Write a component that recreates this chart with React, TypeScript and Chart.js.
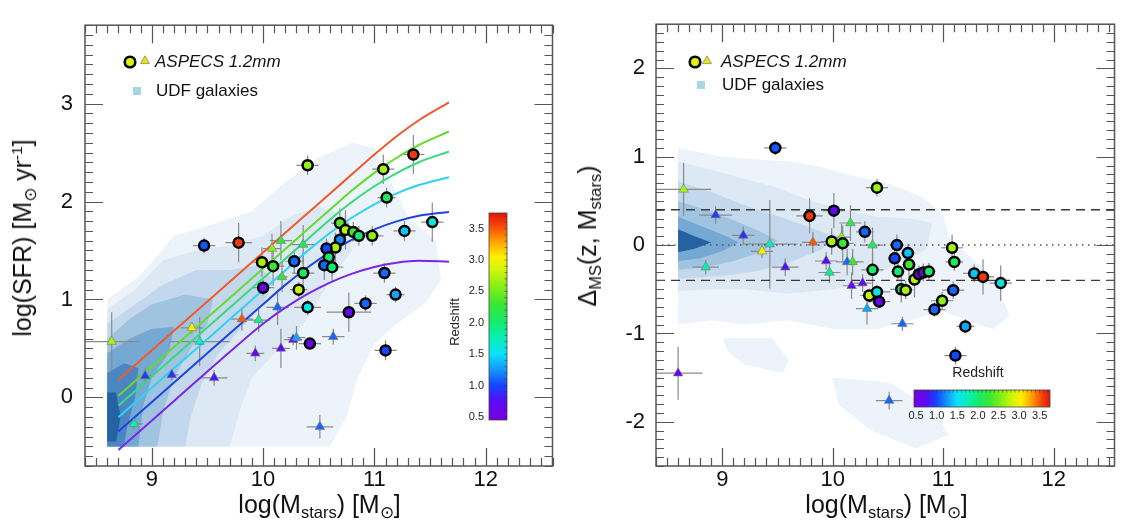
import React, { useEffect, useRef } from "react";
import { Chart, registerables } from "chart.js";

Chart.register(...registerables);

const FONT = "'Liberation Sans', Arial, Helvetica, sans-serif";

// ---------------- tick labels ----------------
const X_MAJOR = [9, 10, 11, 12];
const SFR_TICKS = [0, 1, 2, 3];
const DMS_TICKS = [-2, -1, 0, 1, 2];
const CBAR_TICKS = [0.5, 1.0, 1.5, 2.0, 2.5, 3.0, 3.5];

// ---------------- ASPECS 1.2mm, circles (left panel) ----------------
const C_LOGM = [9.47, 9.78, 9.99, 10.09, 10.28, 10.36, 10.0, 10.32, 10.4, 10.42, 10.4, 11.08, 11.35, 11.11, 10.69, 10.74, 10.81, 10.86, 10.98, 11.27, 11.52, 10.69, 10.65, 10.57, 10.59, 10.55, 10.62, 11.09, 11.19, 10.92, 10.77, 11.1];
const C_LOGSFR = [1.55, 1.58, 1.38, 1.34, 1.39, 1.27, 1.12, 1.1, 0.92, 0.55, 2.37, 2.33, 2.48, 2.04, 1.78, 1.71, 1.69, 1.65, 1.65, 1.7, 1.79, 1.61, 1.53, 1.52, 1.43, 1.35, 1.33, 1.27, 1.05, 0.96, 0.87, 0.48];
const C_Z = [1.05, 3.6, 2.7, 2.3, 1.1, 2.05, 0.65, 2.8, 1.6, 0.6, 2.65, 2.7, 3.6, 2.1, 2.4, 2.75, 2.3, 2.0, 2.6, 1.4, 1.6, 1.2, 2.7, 1.0, 2.0, 1.1, 2.0, 1.1, 1.3, 1.1, 0.65, 1.0];
const C_XERR = [0.1, 0.12, 0.1, 0.1, 0.08, 0.1, 0.1, 0.08, 0.12, 0.1, 0.1, 0.1, 0.1, 0.08, 0.08, 0.06, 0.06, 0.06, 0.1, 0.1, 0.1, 0.05, 0.05, 0.06, 0.06, 0.06, 0.1, 0.1, 0.08, 0.1, 0.2, 0.1];
const C_YERR = [0.08, 0.2, 0.15, 0.2, 0.12, 0.2, 0.08, 0.08, 0.08, 0.06, 0.1, 0.15, 0.2, 0.1, 0.15, 0.2, 0.1, 0.1, 0.1, 0.1, 0.2, 0.1, 0.15, 0.1, 0.1, 0.15, 0.15, 0.1, 0.08, 0.08, 0.2, 0.1];

// ---------------- ASPECS 1.2mm, triangles (left panel) ----------------
const T_LOGM = [8.64, 8.94, 9.18, 8.84, 9.36, 9.43, 9.56, 9.81, 9.96, 10.13, 9.93, 10.16, 10.27, 10.3, 10.08, 10.16, 10.36, 10.17, 10.51, 10.63];
const T_LOGSFR = [0.57, 0.22, 0.23, -0.27, 0.71, 0.57, 0.2, 0.8, 0.79, 0.92, 0.45, 0.5, 0.59, 0.61, 1.52, 1.6, 1.56, 1.23, -0.3, 0.62];
const T_Z = [2.7, 0.95, 0.9, 1.8, 3.0, 1.7, 0.8, 3.5, 1.9, 1.1, 0.7, 0.7, 0.7, 1.3, 2.6, 2.2, 2.1, 2.3, 1.1, 1.1];
const T_XERR = [0.25, 0.08, 0.06, 0.08, 0.1, 0.27, 0.12, 0.1, 0.1, 0.1, 0.08, 0.08, 0.08, 0.08, 0.08, 0.1, 0.12, 0.05, 0.12, 0.1];
const T_YERR = [0.3, 0.08, 0.05, 0.06, 0.06, 0.25, 0.08, 0.12, 0.12, 0.18, 0.08, 0.2, 0.06, 0.12, 0.15, 0.2, 0.2, 0.15, 0.12, 0.08];

// ---------------- ASPECS circles (right panel, Delta_MS) ----------------
const RC_LOGM = [9.48, 10.4, 9.79, 10.01, 10.29, 9.99, 10.09, 10.36, 10.33, 10.4, 10.42, 10.58, 10.56, 10.68, 10.69, 10.59, 10.74, 10.78, 10.82, 10.87, 10.62, 10.66, 11.08, 11.1, 11.28, 11.36, 11.52, 11.09, 10.99, 10.92, 11.2, 11.11];
const RC_DMS = [1.1, 0.65, 0.33, 0.39, 0.15, 0.04, 0.02, -0.28, -0.57, -0.53, -0.64, 0.0, -0.15, -0.09, -0.22, -0.3, -0.39, -0.33, -0.31, -0.3, -0.5, -0.51, -0.03, -0.19, -0.32, -0.36, -0.43, -0.51, -0.63, -0.73, -0.92, -1.25];
const RC_Z = [1.05, 2.65, 3.6, 0.65, 1.1, 2.7, 2.3, 2.05, 2.8, 1.6, 0.6, 1.1, 1.0, 1.4, 2.3, 2.0, 2.75, 0.55, 0.6, 2.0, 2.0, 2.7, 2.7, 2.1, 1.4, 3.6, 1.6, 1.1, 2.6, 1.1, 1.3, 1.0];
const RC_XERR = [0.1, 0.1, 0.12, 0.1, 0.08, 0.1, 0.1, 0.1, 0.08, 0.12, 0.1, 0.06, 0.06, 0.06, 0.06, 0.06, 0.06, 0.06, 0.06, 0.06, 0.1, 0.06, 0.1, 0.08, 0.1, 0.1, 0.1, 0.1, 0.1, 0.1, 0.08, 0.1];
const RC_YERR = [0.08, 0.1, 0.2, 0.2, 0.12, 0.15, 0.2, 0.2, 0.08, 0.08, 0.06, 0.12, 0.15, 0.1, 0.15, 0.1, 0.2, 0.1, 0.1, 0.1, 0.15, 0.1, 0.15, 0.1, 0.1, 0.2, 0.2, 0.1, 0.1, 0.08, 0.08, 0.1];

// ---------------- ASPECS triangles (right panel, Delta_MS) ----------------
const RT_LOGM = [8.65, 8.94, 9.19, 8.85, 9.36, 9.43, 9.57, 9.82, 9.97, 10.13, 9.94, 10.17, 10.27, 10.31, 10.08, 10.16, 10.36, 10.18, 8.6, 10.51, 10.63];
const RT_DMS = [0.63, 0.34, 0.11, -0.25, -0.07, 0.01, -0.25, 0.03, -0.31, -0.19, -0.18, -0.46, -0.43, -0.72, 0.09, 0.25, 0.0, -0.19, -1.45, -1.76, -0.89];
const RT_Z = [2.7, 0.95, 0.9, 1.8, 3.0, 1.7, 0.8, 3.5, 1.9, 1.1, 0.7, 0.7, 0.7, 1.3, 2.6, 2.2, 2.1, 2.3, 0.6, 1.1, 1.1];
const RT_XERR = [0.25, 0.15, 0.1, 0.12, 0.1, 0.25, 0.12, 0.1, 0.1, 0.1, 0.1, 0.08, 0.08, 0.1, 0.08, 0.1, 0.1, 0.1, 0.22, 0.12, 0.1];
const RT_YERR = [0.3, 0.1, 0.1, 0.08, 0.08, 0.5, 0.1, 0.12, 0.12, 0.15, 0.1, 0.15, 0.1, 0.18, 0.15, 0.2, 0.2, 0.15, 0.3, 0.1, 0.08];

// ---------------- Main-sequence curves (left panel) ----------------
const MS_LOGM = [8.7, 9.2, 9.7, 10.0, 10.2, 10.4, 10.6, 10.8, 11.0, 11.2, 11.4, 11.67];
const MS_Z = [3.5, 2.5, 2.0, 1.5, 1.0, 0.5];
const MS_SFR_Z35 = [0.18, 0.68, 1.18, 1.48, 1.68, 1.88, 2.08, 2.28, 2.48, 2.667, 2.83, 3.012];
const MS_SFR_Z25 = [0.016, 0.516, 1.016, 1.316, 1.516, 1.716, 1.916, 2.114, 2.293, 2.447, 2.577, 2.715];
const MS_SFR_Z20 = [-0.084, 0.416, 0.916, 1.216, 1.416, 1.616, 1.815, 1.997, 2.156, 2.29, 2.401, 2.511];
const MS_SFR_Z15 = [-0.203, 0.297, 0.797, 1.097, 1.297, 1.496, 1.679, 1.837, 1.972, 2.083, 2.169, 2.248];
const MS_SFR_Z10 = [-0.348, 0.152, 0.652, 0.952, 1.149, 1.327, 1.48, 1.61, 1.715, 1.797, 1.854, 1.894];
const MS_SFR_Z05 = [-0.536, -0.036, 0.464, 0.752, 0.916, 1.056, 1.172, 1.264, 1.332, 1.376, 1.396, 1.385];
const MS_SFR = [MS_SFR_Z35, MS_SFR_Z25, MS_SFR_Z20, MS_SFR_Z15, MS_SFR_Z10, MS_SFR_Z05];

// ---------------- Delta_MS reference levels (right panel) ----------------
const DMS_SCATTER = [0.4, -0.4];
const DMS_ZERO = [0];

// ---------------- UDF galaxy density contours ----------------
const UDF_SFR_L1 = [[8.6, -0.5], [8.6, 1.0], [8.9, 1.25], [9.2, 1.65], [9.5, 1.75], [9.9, 1.9], [10.2, 2.2], [10.5, 2.45], [10.8, 2.6], [11.0, 2.55], [11.15, 2.2], [11.3, 1.85], [11.55, 1.6], [11.6, 1.2], [11.45, 0.95], [11.2, 0.75], [11.0, 0.55], [10.85, 0.2], [10.75, -0.2], [10.6, -0.5]];
const UDF_SFR_L2 = [[8.6, -0.5], [8.6, 0.9], [8.85, 1.1], [9.1, 1.4], [9.4, 1.5], [9.7, 1.55], [10.0, 1.65], [10.25, 1.85], [10.5, 1.95], [10.75, 1.85], [10.8, 1.5], [10.6, 1.2], [10.45, 0.9], [10.3, 0.65], [10.1, 0.45], [9.9, 0.2], [9.8, -0.1], [9.7, -0.5]];
const UDF_SFR_L3 = [[8.6, -0.5], [8.6, 0.75], [8.85, 0.95], [9.1, 1.15], [9.4, 1.3], [9.7, 1.3], [9.95, 1.35], [10.1, 1.2], [10.0, 0.95], [9.8, 0.7], [9.6, 0.45], [9.45, 0.15], [9.35, -0.2], [9.3, -0.5]];
const UDF_SFR_L4 = [[8.6, -0.5], [8.6, 0.6], [8.8, 0.8], [9.0, 0.95], [9.3, 1.05], [9.55, 1.0], [9.5, 0.75], [9.35, 0.5], [9.2, 0.2], [9.1, -0.15], [9.05, -0.5]];
const UDF_SFR_L5 = [[8.6, -0.5], [8.6, 0.45], [8.8, 0.6], [9.0, 0.7], [9.2, 0.72], [9.15, 0.45], [9.0, 0.2], [8.92, -0.1], [8.88, -0.5]];
const UDF_SFR_L6 = [[8.6, -0.5], [8.6, 0.25], [8.75, 0.35], [8.88, 0.3], [8.85, 0.0], [8.78, -0.3], [8.75, -0.5]];
const UDF_SFR_L7 = [[8.6, -0.45], [8.6, 0.05], [8.68, 0.05], [8.72, -0.2], [8.68, -0.45]];

const UDF_DMS_L1 = [[8.6, 1.1], [9.0, 1.0], [9.3, 0.97], [9.6, 0.95], [9.9, 0.88], [10.2, 0.78], [10.5, 0.7], [10.8, 0.55], [11.0, 0.35], [11.05, 0.1], [11.3, -0.2], [11.5, -0.5], [11.6, -0.8], [11.45, -0.95], [11.2, -0.85], [11.0, -0.75], [10.7, -0.85], [10.4, -0.95], [10.0, -0.95], [9.6, -0.85], [9.2, -0.9], [8.9, -0.85], [8.6, -0.9]];
const UDF_DMS_P2 = [[9.0, -1.05], [9.45, -1.05], [9.6, -1.3], [9.55, -1.45], [9.2, -1.35], [9.05, -1.2]];
const UDF_DMS_P3 = [[10.0, -1.5], [10.5, -1.55], [10.9, -1.85], [11.05, -2.15], [10.75, -2.3], [10.35, -2.1], [10.05, -1.8]];
const UDF_DMS_L2 = [[8.6, 0.95], [8.9, 0.85], [9.2, 0.75], [9.5, 0.65], [9.8, 0.5], [10.1, 0.4], [10.4, 0.32], [10.7, 0.3], [10.9, 0.25], [10.85, -0.05], [10.6, -0.2], [10.3, -0.4], [10.0, -0.5], [9.6, -0.55], [9.2, -0.5], [8.9, -0.5], [8.6, -0.52]];
const UDF_DMS_L3 = [[8.6, 0.72], [8.9, 0.6], [9.2, 0.45], [9.5, 0.33], [9.8, 0.2], [10.0, 0.1], [9.9, -0.05], [9.6, -0.2], [9.3, -0.3], [9.0, -0.35], [8.6, -0.38]];
const UDF_DMS_L4 = [[8.6, 0.5], [8.85, 0.4], [9.1, 0.28], [9.35, 0.15], [9.5, 0.05], [9.35, -0.08], [9.1, -0.18], [8.85, -0.25], [8.6, -0.28]];
const UDF_DMS_L5 = [[8.6, 0.32], [8.8, 0.22], [9.0, 0.12], [9.15, 0.03], [9.0, -0.07], [8.8, -0.15], [8.6, -0.18]];
const UDF_DMS_L6 = [[8.6, 0.18], [8.75, 0.1], [8.9, 0.03], [8.75, -0.04], [8.6, -0.08]];

// ---------------- styles ----------------
const CONTOUR_COLORS = ["#edf3fa", "#dce8f4", "#c3d8ec", "#a0c3e0", "#75a8d3", "#4b86c2", "#2462a3"];
const MS_COLORS = ["#f2592a", "#62dc2c", "#36db7c", "#2fd2f0", "#1f44e0", "#7a26e6"];
const CMAP_Z = [0.45, 0.75, 1.0, 1.25, 1.5, 1.8, 2.0, 2.3, 2.6, 2.85, 3.05, 3.3, 3.55, 3.75];
const CMAP_RGB = [
  [120, 0, 225], [90, 10, 245], [20, 70, 255], [20, 150, 250], [10, 225, 250], [10, 240, 170], [20, 235, 110],
  [60, 230, 50], [140, 240, 20], [210, 245, 10], [255, 240, 0], [255, 160, 0], [245, 70, 10], [225, 20, 10],
];
const CB_MIN = 0.45;
const CB_MAX = 3.75;

function zColor(z: number): string {
  if (z <= CMAP_Z[0]) return `rgb(${CMAP_RGB[0].join(",")})`;
  for (let i = 1; i < CMAP_Z.length; i++) {
    if (z <= CMAP_Z[i]) {
      const t = (z - CMAP_Z[i - 1]) / (CMAP_Z[i] - CMAP_Z[i - 1]);
      const a = CMAP_RGB[i - 1];
      const b = CMAP_RGB[i];
      const c = a.map((v, k) => Math.round(v + (b[k] - v) * t));
      return `rgb(${c.join(",")})`;
    }
  }
  return `rgb(${CMAP_RGB[CMAP_RGB.length - 1].join(",")})`;
}

const pts = (xs: number[], ys: number[]) => xs.map((x, i) => ({ x, y: ys[i] }));

type ErrSet = { x: number[]; y: number[]; xe: number[]; ye: number[] };
type DecorCfg = {
  id: string;
  contours: { pts: number[][]; color: string }[];
  errors: ErrSet[];
  legend: { cx: number; cy: number; trx: number; tx: number; sx: number; sy: number; ux: number };
  colorbar: { orient: "v" | "h"; x0: number; y0: number; x1: number; y1: number; lx: number; ly: number; lsize: number };
};

function makeDecor(cfg: DecorCfg) {
  return {
    id: cfg.id,
    beforeDatasetsDraw(chart: any) {
      const { ctx, chartArea: a } = chart;
      const xs = chart.scales.x;
      const ys = chart.scales.y;
      ctx.save();
      ctx.beginPath();
      ctx.rect(a.left, a.top, a.right - a.left, a.bottom - a.top);
      ctx.clip();
      for (const c of cfg.contours) {
        ctx.beginPath();
        c.pts.forEach(([vx, vy], i) => {
          const px = xs.getPixelForValue(vx);
          const py = ys.getPixelForValue(vy);
          if (i === 0) ctx.moveTo(px, py);
          else ctx.lineTo(px, py);
        });
        ctx.closePath();
        ctx.fillStyle = c.color;
        ctx.fill();
      }
      ctx.strokeStyle = "#8a8a8a";
      ctx.lineWidth = 1.2;
      for (const e of cfg.errors) {
        for (let i = 0; i < e.x.length; i++) {
          const px = xs.getPixelForValue(e.x[i]);
          const py = ys.getPixelForValue(e.y[i]);
          ctx.beginPath();
          ctx.moveTo(xs.getPixelForValue(e.x[i] - e.xe[i]), py);
          ctx.lineTo(xs.getPixelForValue(e.x[i] + e.xe[i]), py);
          ctx.moveTo(px, ys.getPixelForValue(e.y[i] - e.ye[i]));
          ctx.lineTo(px, ys.getPixelForValue(e.y[i] + e.ye[i]));
          ctx.stroke();
        }
      }
      ctx.restore();
    },
    afterDraw(chart: any) {
      const { ctx, chartArea: a } = chart;
      const xs = chart.scales.x;
      const ys = chart.scales.y;
      ctx.save();
      // ticks, all four sides, inward
      ctx.strokeStyle = "#555";
      ctx.lineWidth = 1.2;
      const k0 = Math.ceil(xs.min * 10 - 1e-6);
      const k1 = Math.floor(xs.max * 10 + 1e-6);
      for (let k = k0; k <= k1; k++) {
        const L = k % 10 === 0 ? 18 : 8;
        const px = Math.round(xs.getPixelForValue(k / 10)) + 0.5;
        ctx.beginPath();
        ctx.moveTo(px, a.bottom);
        ctx.lineTo(px, a.bottom - L);
        ctx.moveTo(px, a.top);
        ctx.lineTo(px, a.top + L);
        ctx.stroke();
      }
      const j0 = Math.ceil(ys.min * 10 - 1e-6);
      const j1 = Math.floor(ys.max * 10 + 1e-6);
      for (let k = j0; k <= j1; k++) {
        const L = k % 10 === 0 ? 18 : 8;
        const py = Math.round(ys.getPixelForValue(k / 10)) + 0.5;
        ctx.beginPath();
        ctx.moveTo(a.left, py);
        ctx.lineTo(a.left + L, py);
        ctx.moveTo(a.right, py);
        ctx.lineTo(a.right - L, py);
        ctx.stroke();
      }
      ctx.lineWidth = 1.5;
      ctx.strokeRect(a.left, a.top, a.right - a.left, a.bottom - a.top);

      // legend
      const L = cfg.legend;
      ctx.beginPath();
      ctx.arc(L.cx, L.cy, 5.3, 0, Math.PI * 2);
      ctx.fillStyle = "#e2f000";
      ctx.fill();
      ctx.lineWidth = 2.6;
      ctx.strokeStyle = "#000";
      ctx.stroke();
      const r = 5.2;
      ctx.beginPath();
      ctx.moveTo(L.trx, L.cy - 1 - r);
      ctx.lineTo(L.trx + r * 0.866, L.cy - 1 + r * 0.5);
      ctx.lineTo(L.trx - r * 0.866, L.cy - 1 + r * 0.5);
      ctx.closePath();
      ctx.fillStyle = "#e6e600";
      ctx.fill();
      ctx.lineWidth = 0.8;
      ctx.strokeStyle = "#888";
      ctx.stroke();
      ctx.fillStyle = "#111";
      ctx.textBaseline = "middle";
      ctx.textAlign = "left";
      ctx.font = `italic 17px ${FONT}`;
      ctx.fillText("ASPECS 1.2mm", L.tx, L.cy);
      ctx.fillStyle = "#a9d3e6";
      ctx.fillRect(L.sx - 4, L.sy - 4, 8, 8);
      ctx.fillStyle = "#111";
      ctx.font = `17px ${FONT}`;
      ctx.fillText("UDF galaxies", L.ux, L.sy);

      // colorbar
      const cb = cfg.colorbar;
      const stops = CMAP_Z.map((z, i) => [(z - CB_MIN) / (CB_MAX - CB_MIN), `rgb(${CMAP_RGB[i].join(",")})`] as [number, string]);
      let g;
      if (cb.orient === "v") g = ctx.createLinearGradient(0, cb.y1, 0, cb.y0);
      else g = ctx.createLinearGradient(cb.x0, 0, cb.x1, 0);
      for (const [o, c] of stops) g.addColorStop(Math.min(1, Math.max(0, o)), c);
      ctx.fillStyle = g;
      ctx.fillRect(cb.x0, cb.y0, cb.x1 - cb.x0, cb.y1 - cb.y0);
      ctx.strokeStyle = "#444";
      ctx.lineWidth = 0.8;
      ctx.strokeRect(cb.x0, cb.y0, cb.x1 - cb.x0, cb.y1 - cb.y0);
      ctx.fillStyle = "#222";
      ctx.font = `11px ${FONT}`;
      ctx.strokeStyle = "rgba(40,40,40,0.7)";
      ctx.lineWidth = 0.7;
      for (let k = 5; k <= 37; k++) {
        const t = (k / 10 - CB_MIN) / (CB_MAX - CB_MIN);
        ctx.beginPath();
        if (cb.orient === "v") {
          const py = cb.y1 - t * (cb.y1 - cb.y0);
          ctx.moveTo(cb.x1, py);
          ctx.lineTo(cb.x1 - 2.5, py);
        } else {
          const px = cb.x0 + t * (cb.x1 - cb.x0);
          ctx.moveTo(px, cb.y0);
          ctx.lineTo(px, cb.y0 + 2.5);
        }
        ctx.stroke();
      }
      for (const tv of CBAR_TICKS) {
        const t = (tv - CB_MIN) / (CB_MAX - CB_MIN);
        if (cb.orient === "v") {
          ctx.textAlign = "right";
          ctx.textBaseline = "middle";
          ctx.fillText(tv.toFixed(1), cb.x0 - 5, cb.y1 - t * (cb.y1 - cb.y0));
        } else {
          ctx.textAlign = "center";
          ctx.textBaseline = "middle";
          ctx.fillText(tv.toFixed(1), cb.x0 + t * (cb.x1 - cb.x0), cb.y1 + 9);
        }
      }
      ctx.font = `${cb.lsize}px ${FONT}`;
      ctx.fillStyle = "#222";
      ctx.textAlign = "center";
      ctx.textBaseline = "middle";
      if (cb.orient === "v") {
        ctx.translate(cb.lx, cb.ly);
        ctx.rotate(-Math.PI / 2);
        ctx.fillText("Redshift", 0, 0);
      } else {
        ctx.fillText("Redshift", cb.lx, cb.ly);
      }
      ctx.restore();
    },
  };
}

function xAxis(min: number, max: number) {
  return {
    type: "linear",
    position: "bottom",
    min,
    max,
    bounds: "data",
    afterBuildTicks: (s: any) => {
      s.ticks = X_MAJOR.map((v) => ({ value: v }));
    },
    afterFit: (s: any) => {
      s.height = 61;
    },
    grid: { display: false, drawTicks: false },
    border: { display: false },
    ticks: { font: { family: FONT, size: 22 }, color: "#111", padding: 1, maxRotation: 0, autoSkip: false, callback: (v: any) => String(v) },
  };
}

function yAxis(min: number, max: number, ticks: number[], width: number, pad: number) {
  return {
    type: "linear",
    position: "left",
    min,
    max,
    bounds: "data",
    afterBuildTicks: (s: any) => {
      s.ticks = ticks.map((v) => ({ value: v }));
    },
    afterFit: (s: any) => {
      s.width = width;
    },
    grid: { display: false, drawTicks: false },
    border: { display: false },
    ticks: { font: { family: FONT, size: 22 }, color: "#111", padding: pad, autoSkip: false, callback: (v: any) => String(v) },
  };
}

function scatterSets(xs: number[], ys: number[], zs: number[], xs2: number[], ys2: number[], zs2: number[]) {
  return [
    {
      label: "ASPECS circles",
      data: pts(xs, ys),
      pointStyle: "circle",
      pointRadius: 5,
      pointBackgroundColor: zs.map(zColor),
      pointBorderColor: "#000",
      pointBorderWidth: 2.5,
      showLine: false,
    },
    {
      label: "ASPECS triangles",
      data: pts(xs2, ys2),
      pointStyle: "triangle",
      pointRadius: 5.5,
      pointBackgroundColor: zs2.map(zColor),
      pointBorderColor: "#777",
      pointBorderWidth: 0.6,
      showLine: false,
    },
  ];
}

const sub: React.CSSProperties = { fontSize: "0.66em", verticalAlign: "-0.32em", lineHeight: 0 };
const sup: React.CSSProperties = { fontSize: "0.62em", verticalAlign: "0.6em", lineHeight: 0 };
const titleBase: React.CSSProperties = { position: "absolute", fontSize: 25, lineHeight: "22px", whiteSpace: "nowrap", color: "#111", fontFamily: FONT };

export default function App() {
  const c1 = useRef<HTMLCanvasElement>(null);
  const c2 = useRef<HTMLCanvasElement>(null);

  useEffect(() => {
    const msSets = MS_SFR.map((ys, i) => ({
      label: `MS z=${MS_Z[i]}`,
      data: pts(MS_LOGM, ys),
      showLine: true,
      borderColor: MS_COLORS[i],
      borderWidth: 2,
      pointRadius: 0,
      fill: false,
      cubicInterpolationMode: "monotone",
    }));
    const decor1 = makeDecor({
      id: "decor1",
      contours: [UDF_SFR_L1, UDF_SFR_L2, UDF_SFR_L3, UDF_SFR_L4, UDF_SFR_L5, UDF_SFR_L6, UDF_SFR_L7].map((p, i) => ({ pts: p, color: CONTOUR_COLORS[i] })),
      errors: [
        { x: C_LOGM, y: C_LOGSFR, xe: C_XERR, ye: C_YERR },
        { x: T_LOGM, y: T_LOGSFR, xe: T_XERR, ye: T_YERR },
      ],
      legend: { cx: 130, cy: 62, trx: 145, tx: 155, sx: 137, sy: 91, ux: 156 },
      colorbar: { orient: "v", x0: 489, y0: 213, x1: 507, y1: 420, lx: 455, ly: 322, lsize: 13 },
    });
    const chart1 = new Chart(c1.current as HTMLCanvasElement, {
      type: "scatter",
      data: { datasets: [...scatterSets(C_LOGM, C_LOGSFR, C_Z, T_LOGM, T_LOGSFR, T_Z), ...msSets] as any },
      options: {
        responsive: false,
        animation: false,
        events: [],
        layout: { padding: { left: 0, top: 9, right: 6, bottom: 0 } },
        plugins: { legend: { display: false }, tooltip: { enabled: false } },
        scales: { x: xAxis(8.4, 12.6) as any, y: yAxis(-0.7, 3.8, SFR_TICKS, 85, 12) as any },
      },
      plugins: [decor1],
    });

    const refSets = [
      ...DMS_SCATTER.map((v) => ({
        label: `scatter ${v}`,
        data: [{ x: 8.4, y: v }, { x: 12.55, y: v }],
        showLine: true,
        borderColor: "#3a3a3a",
        borderWidth: 1.3,
        borderDash: [9, 6],
        pointRadius: 0,
        fill: false,
      })),
      ...DMS_ZERO.map((v) => ({
        label: `zero ${v}`,
        data: [{ x: 8.4, y: v }, { x: 12.55, y: v }],
        showLine: true,
        borderColor: "#555",
        borderWidth: 1.5,
        borderDash: [1.5, 4.5],
        pointRadius: 0,
        fill: false,
      })),
    ];
    const decor2 = makeDecor({
      id: "decor2",
      contours: [
        { pts: UDF_DMS_L1, color: CONTOUR_COLORS[0] },
        { pts: UDF_DMS_P2, color: CONTOUR_COLORS[0] },
        { pts: UDF_DMS_P3, color: CONTOUR_COLORS[0] },
        { pts: UDF_DMS_L2, color: CONTOUR_COLORS[1] },
        { pts: UDF_DMS_L3, color: CONTOUR_COLORS[2] },
        { pts: UDF_DMS_L4, color: CONTOUR_COLORS[3] },
        { pts: UDF_DMS_L5, color: CONTOUR_COLORS[4] },
        { pts: UDF_DMS_L6, color: CONTOUR_COLORS[6] },
      ],
      errors: [
        { x: RC_LOGM, y: RC_DMS, xe: RC_XERR, ye: RC_YERR },
        { x: RT_LOGM, y: RT_DMS, xe: RT_XERR, ye: RT_YERR },
      ],
      legend: { cx: 135, cy: 62, trx: 147, tx: 161, sx: 141, sy: 85, ux: 162 },
      colorbar: { orient: "h", x0: 354, y0: 390, x1: 490, y1: 407, lx: 418, ly: 373, lsize: 14 },
    });
    const chart2 = new Chart(c2.current as HTMLCanvasElement, {
      type: "scatter",
      data: { datasets: [...scatterSets(RC_LOGM, RC_DMS, RC_Z, RT_LOGM, RT_DMS, RT_Z), ...refSets] as any },
      options: {
        responsive: false,
        animation: false,
        events: [],
        layout: { padding: { left: 0, top: 9, right: 5, bottom: 0 } },
        plugins: { legend: { display: false }, tooltip: { enabled: false } },
        scales: { x: xAxis(8.4, 12.55) as any, y: yAxis(-2.5, 2.5, DMS_TICKS, 96, 11) as any },
      },
      plugins: [decor2],
    });
    return () => {
      chart1.destroy();
      chart2.destroy();
    };
  }, []);

  return (
    <div style={{ position: "fixed", left: 0, top: 0, width: 1122, height: 527, background: "#fff", overflow: "hidden" }}>
      <canvas ref={c1} width={560} height={527} style={{ position: "absolute", left: 0, top: 0 }} />
      <canvas ref={c2} width={562} height={527} style={{ position: "absolute", left: 560, top: 0 }} />
      <div style={{ ...titleBase, left: 319.5, top: 493, transform: "translateX(-50%)" }}>
        log(M<span style={sub}>stars</span>) [M<span style={sub}>⊙</span>]
      </div>
      <div style={{ ...titleBase, left: 886.5, top: 493, transform: "translateX(-50%)" }}>
        log(M<span style={sub}>stars</span>) [M<span style={sub}>⊙</span>]
      </div>
      <div style={{ ...titleBase, left: 22, top: 237.5, transform: "translate(-50%,-50%) rotate(-90deg)" }}>
        log(SFR) [M<span style={sub}>⊙</span> yr<span style={sup}>-1</span>]
      </div>
      <div style={{ ...titleBase, left: 587, top: 236, transform: "translate(-50%,-50%) rotate(-90deg)" }}>
        Δ<span style={sub}>MS</span>(z, M<span style={sub}>stars</span>)
      </div>
    </div>
  );
}
